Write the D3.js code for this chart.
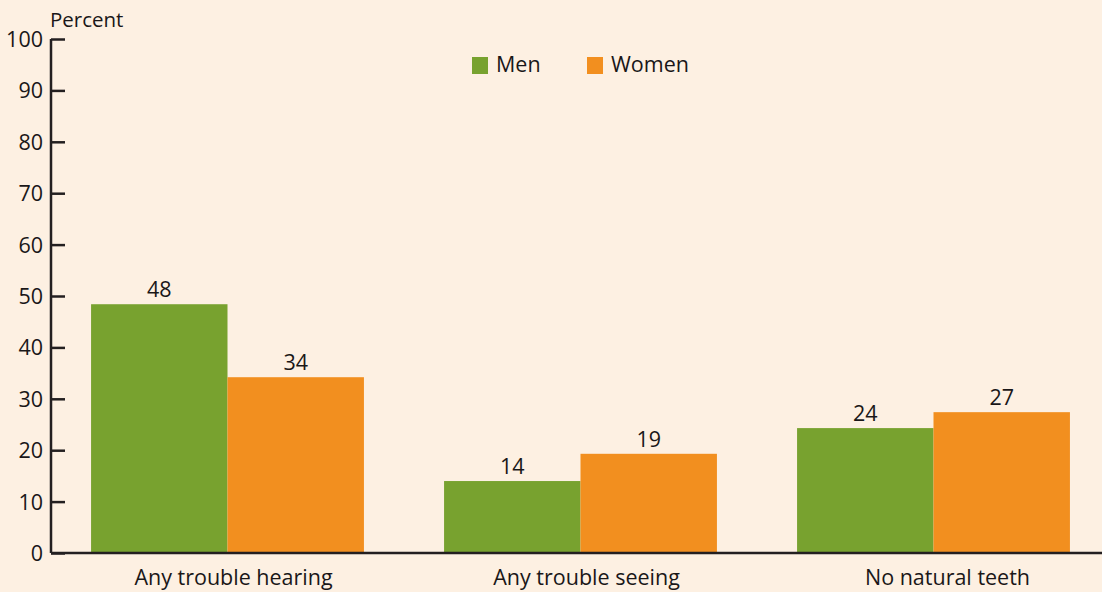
<!DOCTYPE html>
<html>
<head>
<meta charset="utf-8">
<script src="https://cdn.jsdelivr.net/npm/d3@7"></script>
<style>
  body { margin: 0; background: #fdf0e2; }
  svg { display: block; font-family: "Open Sans", sans-serif; }
  text { fill: #1a1718; }
</style>
</head>
<body>
<div id="chart"></div>
<script>
const categories = ["Any trouble hearing", "Any trouble seeing", "No natural teeth"];
const series = ["Men", "Women"];
const men = [48.4, 14.0, 24.3];
const women = [34.2, 19.3, 27.4];
const yTicks = [0, 10, 20, 30, 40, 50, 60, 70, 80, 90, 100];

const colors = { Men: "#78a22f", Women: "#f28f1f" };

const width = 1102,
      height = 592,
      margin = ({ top: 39, right: 0, bottom: 39, left: 51 });

const data = categories.map((c, i) => ({ cat: c, Men: men[i], Women: women[i] }));

let svg = d3.select("#chart")
    .append("svg")
    .attr("width", width)
    .attr("height", height);

let x = d3.scaleBand()
    .domain(categories)
    .range([51, 1110])
    .paddingInner(0.227)
    .paddingOuter(0.1135);

let xSub = d3.scaleBand()
    .domain(series)
    .range([0, x.bandwidth()]);

let y = d3.scaleLinear()
    .domain([0, 100])
    .range([height - margin.bottom, margin.top]);

// bars
let group = svg.selectAll(".grp")
    .data(data)
    .join("g")
    .attr("class", "grp")
    .attr("transform", d => `translate(${x(d.cat)},0)`);

group.selectAll("rect")
    .data(d => series.map(s => ({ key: s, value: d[s] })))
    .join("rect")
    .attr("x", d => xSub(d.key))
    .attr("width", xSub.bandwidth())
    .attr("y", d => y(d.value))
    .attr("height", d => y(0) - y(d.value))
    .attr("fill", d => colors[d.key]);

group.selectAll("text.val")
    .data(d => series.map(s => ({ key: s, value: d[s] })))
    .join("text")
    .attr("class", "val")
    .attr("x", d => xSub(d.key) + xSub.bandwidth() / 2)
    .attr("y", d => y(d.value) - 7)
    .attr("text-anchor", "middle")
    .style("font-size", "21.5px")
    .text(d => Math.round(d.value));

// y axis
let yAxis = svg.append("g")
    .attr("transform", `translate(${margin.left},0)`)
    .call(d3.axisRight(y).tickValues(yTicks).tickSize(14).tickFormat(d3.format("d")));
yAxis.select(".domain").attr("stroke", "#231f20").attr("stroke-width", 2.5)
    .attr("d", `M0,${y(100)}V${y(0)}`);
yAxis.selectAll(".tick line").attr("stroke", "#231f20").attr("stroke-width", 2.5);
yAxis.selectAll(".tick text")
    .attr("x", -8)
    .attr("text-anchor", "end")
    .attr("dy", "0.35em")
    .style("font-size", "21.5px")
    .style("font-family", "'Open Sans', sans-serif")
    .attr("fill", "#1a1718");

// baseline
svg.append("line")
    .attr("x1", margin.left)
    .attr("x2", width)
    .attr("y1", y(0))
    .attr("y2", y(0))
    .attr("stroke", "#231f20")
    .attr("stroke-width", 2.5);

// x labels (sit a little right of the group centres in the original)
const labelShift = [6, 6, 14];
svg.append("g")
    .selectAll("text")
    .data(categories)
    .join("text")
    .attr("x", (d, i) => x(d) + x.bandwidth() / 2 + labelShift[i])
    .attr("y", 585)
    .attr("text-anchor", "middle")
    .style("font-size", "21.5px")
    .text(d => d);

// y label
svg.append("text")
    .attr("x", 50)
    .attr("y", 27)
    .style("font-size", "20.5px")
    .text("Percent");

// legend
let legend = svg.append("g")
    .selectAll("g")
    .data(series)
    .join("g")
    .attr("transform", (d, i) => `translate(${472 + i * 115},57)`);

legend.append("rect")
    .attr("width", 16)
    .attr("height", 17)
    .attr("fill", d => colors[d]);

legend.append("text")
    .attr("x", 24)
    .attr("y", 15)
    .style("font-size", "21.5px")
    .text(d => d);
</script>
</body>
</html>
